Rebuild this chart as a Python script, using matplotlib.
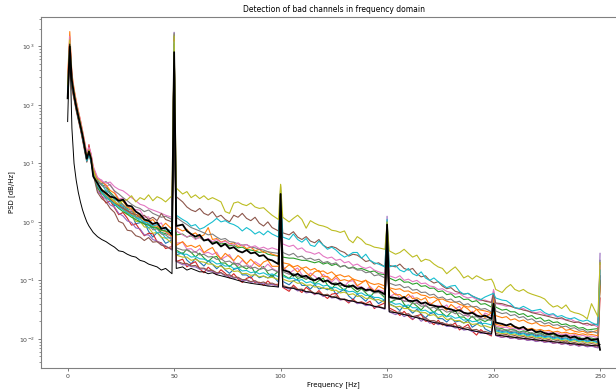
import matplotlib
matplotlib.use("Agg")
import matplotlib.pyplot as plt

# frequency bins (Hz): 1 Hz up to 12 Hz, then every 2 Hz, with the mains lines and their neighbours
freqs = (list(range(0, 13)) + list(range(14, 47, 2)) + [49, 50, 51]
         + list(range(54, 97, 2)) + [99, 100, 101]
         + list(range(104, 147, 2)) + [149, 150, 151]
         + list(range(154, 197, 2)) + [199, 200, 201]
         + list(range(204, 247, 2)) + [249, 250])

# PSD per channel, one row per stretch: 0-12 | 14-49 | 50 | 51-99 | 100 | 101-149 | 150 | 151-199 | 200 | 201-249 | 250
psd_blue = [
    180, 1100, 260, 160, 100, 68, 47, 31, 20, 13, 17, 13, 7.8,
    4.4, 3.3, 3.4, 2.5, 1.9, 1.98, 1.84, 1.37, 1.36, 0.93, 0.97, 0.98, 0.69, 0.55, 0.66, 0.55, 0.43, 0.49,
    1200,
    0.273, 0.296, 0.222, 0.192, 0.238, 0.205, 0.176, 0.217, 0.188, 0.158, 0.184, 0.151, 0.132, 0.154, 0.162, 0.124, 0.124, 0.109, 0.13, 0.111, 0.118, 0.11, 0.124, 0.093,
    2.5,
    0.096, 0.084, 0.099, 0.104, 0.082, 0.082, 0.071, 0.085, 0.071, 0.075, 0.069, 0.076, 0.058, 0.064, 0.071, 0.054, 0.047, 0.058, 0.051, 0.044, 0.054, 0.048, 0.04, 0.047,
    0.9,
    0.04, 0.0351, 0.0304, 0.0374, 0.0328, 0.0275, 0.032, 0.0265, 0.0229, 0.0267, 0.0283, 0.0222, 0.0221, 0.0194, 0.0229, 0.0194, 0.0203, 0.0186, 0.0209, 0.0158, 0.0177, 0.0196, 0.0148, 0.013,
    0.04,
    0.0144, 0.0134, 0.0137, 0.0127, 0.0131, 0.0122, 0.0126, 0.0117, 0.0121, 0.0113, 0.0116, 0.0109, 0.0112, 0.0104, 0.0108, 0.0101, 0.0104, 0.0097, 0.01, 0.0095, 0.0098, 0.0092, 0.0095, 0.0089,
    0.15]
psd_red = [
    140, 800, 200, 130, 85, 58, 40, 26, 17, 11, 21, 13, 7.0,
    4.0, 2.75, 2.1, 2.3, 1.74, 1.33, 1.45, 1.16, 0.88, 0.93, 0.73, 0.58, 0.64, 0.63, 0.46, 0.44, 0.35, 0.38,
    900,
    0.21, 0.23, 0.17, 0.192, 0.209, 0.158, 0.135, 0.168, 0.145, 0.125, 0.152, 0.132, 0.111, 0.13, 0.107, 0.092, 0.108, 0.115, 0.091, 0.093, 0.082, 0.098, 0.084, 0.086,
    1.8,
    0.076, 0.065, 0.083, 0.071, 0.062, 0.076, 0.067, 0.057, 0.067, 0.056, 0.049, 0.058, 0.06, 0.047, 0.047, 0.041, 0.048, 0.041, 0.043, 0.04, 0.044, 0.033, 0.037, 0.041,
    0.6,
    0.0338, 0.0298, 0.0251, 0.0295, 0.0244, 0.0213, 0.0249, 0.0261, 0.02, 0.02, 0.0175, 0.0208, 0.0172, 0.018, 0.0168, 0.0187, 0.0142, 0.0158, 0.0176, 0.0135, 0.0116, 0.0144, 0.0126, 0.0112,
    0.03,
    0.0115, 0.0106, 0.0112, 0.0102, 0.0106, 0.0098, 0.0101, 0.0095, 0.0098, 0.0091, 0.0094, 0.0088, 0.0092, 0.0084, 0.0087, 0.0081, 0.0085, 0.0078, 0.0081, 0.0076, 0.0079, 0.0074, 0.0076, 0.0071,
    0.05]
psd_purple = [
    160, 950, 230, 140, 88, 60, 42, 27, 18, 11.5, 16, 12, 7.2,
    3.4, 2.8, 2.45, 1.95, 1.8, 1.4, 1.26, 1.04, 0.98, 0.79, 0.76, 0.6, 0.6, 0.5, 0.47, 0.42, 0.39, 0.33,
    1750,
    0.21, 0.185, 0.185, 0.172, 0.17, 0.155, 0.158, 0.142, 0.144, 0.13, 0.134, 0.118, 0.12, 0.108, 0.112, 0.099, 0.1, 0.092, 0.096, 0.087, 0.09, 0.082, 0.086, 0.077,
    4.0,
    0.078, 0.071, 0.074, 0.066, 0.069, 0.061, 0.063, 0.058, 0.06, 0.053, 0.056, 0.05, 0.051, 0.046, 0.048, 0.043, 0.045, 0.04, 0.041, 0.037, 0.038, 0.035, 0.035, 0.032,
    1.25,
    0.029, 0.026, 0.028, 0.024, 0.026, 0.022, 0.024, 0.02, 0.022, 0.0185, 0.0195, 0.0175, 0.0185, 0.0163, 0.0166, 0.0153, 0.0156, 0.0141, 0.0145, 0.0133, 0.0135, 0.0124, 0.0127, 0.0117,
    0.055,
    0.0114, 0.0106, 0.0109, 0.0102, 0.0104, 0.0098, 0.01, 0.0094, 0.0096, 0.009, 0.0093, 0.0087, 0.0089, 0.0084, 0.0086, 0.0081, 0.0083, 0.0078, 0.008, 0.0075, 0.0078, 0.0073, 0.0075, 0.007,
    0.29]
psd_green_b = [
    170, 1000, 240, 150, 95, 64, 45, 29, 19, 12.5, 16, 12, 7.5,
    5.2, 4.3, 4.1, 3.2, 2.7, 2.4, 1.95, 1.68, 1.61, 1.24, 1.2, 1.1, 0.9, 0.83, 0.8, 0.66, 0.63, 0.57,
    1000,
    0.33, 0.283, 0.342, 0.301, 0.252, 0.292, 0.242, 0.21, 0.246, 0.257, 0.198, 0.198, 0.171, 0.2, 0.166, 0.172, 0.157, 0.176, 0.135, 0.154, 0.173, 0.133, 0.116, 0.143,
    2.8,
    0.125, 0.108, 0.129, 0.108, 0.113, 0.104, 0.116, 0.087, 0.099, 0.109, 0.083, 0.071, 0.089, 0.078, 0.067, 0.084, 0.072, 0.063, 0.072, 0.061, 0.052, 0.063, 0.064, 0.05,
    0.8,
    0.0416, 0.0468, 0.0515, 0.0392, 0.0337, 0.0418, 0.0363, 0.0312, 0.038, 0.033, 0.0281, 0.0333, 0.0273, 0.0239, 0.0285, 0.0302, 0.0236, 0.0236, 0.0208, 0.0245, 0.0206, 0.0214, 0.0198, 0.0224,
    0.035,
    0.0155, 0.015, 0.0139, 0.0144, 0.0142, 0.013, 0.0137, 0.0132, 0.0122, 0.0127, 0.0125, 0.0115, 0.0122, 0.0118, 0.011, 0.0114, 0.0113, 0.0104, 0.011, 0.0107, 0.0099, 0.0104, 0.0103, 0.0096,
    0.1]
psd_olive_b = [
    150, 900, 210, 135, 85, 58, 41, 27, 17.5, 11.5, 15, 11, 6.8,
    4.2, 3.6, 3.2, 2.6, 2.3, 1.9, 1.64, 1.35, 1.29, 1.02, 1.02, 0.82, 0.8, 0.64, 0.66, 0.54, 0.53, 0.43,
    1600,
    0.27, 0.25, 0.25, 0.22, 0.23, 0.21, 0.205, 0.19, 0.19, 0.17, 0.175, 0.156, 0.161, 0.142, 0.145, 0.13, 0.132, 0.122, 0.125, 0.115, 0.119, 0.11, 0.113, 0.103,
    4.3,
    0.105, 0.096, 0.098, 0.089, 0.091, 0.082, 0.084, 0.077, 0.078, 0.073, 0.073, 0.067, 0.068, 0.061, 0.063, 0.057, 0.059, 0.053, 0.055, 0.049, 0.05, 0.046, 0.047, 0.042,
    1.0,
    0.039, 0.035, 0.036, 0.033, 0.033, 0.03, 0.03, 0.028, 0.028, 0.025, 0.026, 0.023, 0.025, 0.0214, 0.022, 0.0204, 0.0207, 0.0187, 0.0193, 0.0176, 0.0181, 0.0164, 0.0167, 0.0154,
    0.025,
    0.0133, 0.0123, 0.0126, 0.0118, 0.0121, 0.0113, 0.0116, 0.0108, 0.0112, 0.0104, 0.0107, 0.01, 0.0104, 0.0097, 0.01, 0.0093, 0.0096, 0.009, 0.0093, 0.0088, 0.009, 0.0085, 0.0088, 0.0083,
    0.2]
psd_cyan_b = [
    190, 1050, 250, 155, 98, 66, 46, 30, 19, 12, 16, 12.5, 7.4,
    4.6, 4.4, 3.4, 3.1, 2.4, 2.25, 1.7, 1.66, 1.29, 1.25, 1.0, 1.0, 0.79, 0.8, 0.65, 0.66, 0.53, 0.54,
    1300,
    0.31, 0.28, 0.28, 0.25, 0.256, 0.234, 0.231, 0.213, 0.215, 0.191, 0.195, 0.175, 0.179, 0.159, 0.164, 0.145, 0.148, 0.135, 0.141, 0.129, 0.135, 0.123, 0.129, 0.115,
    3.0,
    0.118, 0.106, 0.11, 0.099, 0.103, 0.091, 0.095, 0.086, 0.088, 0.08, 0.083, 0.074, 0.076, 0.069, 0.07, 0.064, 0.065, 0.059, 0.061, 0.055, 0.056, 0.051, 0.051, 0.046,
    0.9,
    0.044, 0.039, 0.04, 0.036, 0.038, 0.034, 0.034, 0.03, 0.031, 0.028, 0.029, 0.026, 0.026, 0.0239, 0.0248, 0.0225, 0.0233, 0.0208, 0.0216, 0.0196, 0.0201, 0.0181, 0.0185, 0.0173,
    0.03,
    0.0138, 0.0128, 0.0132, 0.0122, 0.0128, 0.0117, 0.0123, 0.0112, 0.0118, 0.0108, 0.0112, 0.0105, 0.0109, 0.01, 0.0105, 0.0097, 0.0101, 0.0093, 0.0098, 0.0091, 0.0095, 0.0089, 0.0093, 0.0086,
    0.12]
psd_pink_b = [
    210, 1250, 280, 170, 108, 72, 50, 33, 21, 14, 18, 14, 8.2,
    5.6, 5.2, 4.0, 4.4, 3.3, 2.47, 2.55, 1.94, 1.52, 1.62, 1.59, 1.2, 1.22, 0.86, 0.91, 0.96, 0.67, 0.54,
    1400,
    0.432, 0.448, 0.342, 0.348, 0.299, 0.348, 0.29, 0.302, 0.276, 0.304, 0.227, 0.252, 0.276, 0.209, 0.179, 0.22, 0.19, 0.167, 0.209, 0.187, 0.16, 0.19, 0.161, 0.139,
    2.2,
    0.175, 0.131, 0.149, 0.163, 0.125, 0.107, 0.134, 0.118, 0.103, 0.127, 0.111, 0.094, 0.11, 0.091, 0.079, 0.095, 0.099, 0.078, 0.078, 0.068, 0.079, 0.067, 0.069, 0.064,
    0.7,
    0.0515, 0.0605, 0.0504, 0.044, 0.0518, 0.0543, 0.0418, 0.042, 0.036, 0.0418, 0.0355, 0.0374, 0.034, 0.038, 0.0288, 0.0326, 0.036, 0.0272, 0.0238, 0.0297, 0.026, 0.0225, 0.0276, 0.0248,
    0.05,
    0.0166, 0.0156, 0.0159, 0.0148, 0.0153, 0.0142, 0.0148, 0.0137, 0.0142, 0.0131, 0.0136, 0.0126, 0.0132, 0.0121, 0.0127, 0.0117, 0.0122, 0.0113, 0.0118, 0.011, 0.0115, 0.0107, 0.0112, 0.0105,
    0.18]
psd_brown_b = [
    130, 750, 190, 125, 80, 55, 38, 25, 16, 10.5, 14, 10.5, 6.5,
    3.2, 2.5, 2.2, 1.7, 1.45, 1.02, 0.95, 0.72, 0.7, 0.58, 0.55, 0.48, 0.54, 0.45, 0.46, 0.4, 0.38, 0.34,
    1100,
    0.215, 0.195, 0.195, 0.177, 0.18, 0.162, 0.162, 0.148, 0.149, 0.135, 0.136, 0.123, 0.125, 0.113, 0.113, 0.103, 0.103, 0.095, 0.099, 0.09, 0.094, 0.086, 0.09, 0.081,
    1.6,
    0.082, 0.075, 0.077, 0.07, 0.071, 0.064, 0.066, 0.06, 0.062, 0.056, 0.058, 0.052, 0.054, 0.048, 0.048, 0.045, 0.045, 0.042, 0.042, 0.039, 0.039, 0.036, 0.036, 0.033,
    0.6,
    0.031, 0.028, 0.029, 0.026, 0.027, 0.024, 0.025, 0.022, 0.023, 0.0205, 0.0206, 0.019, 0.019, 0.0173, 0.0178, 0.0163, 0.0167, 0.015, 0.0156, 0.0142, 0.0145, 0.0131, 0.0134, 0.0124,
    0.025,
    0.0124, 0.0116, 0.0119, 0.011, 0.0114, 0.0106, 0.011, 0.0102, 0.0106, 0.0098, 0.0101, 0.0094, 0.0098, 0.009, 0.0095, 0.0088, 0.0092, 0.0084, 0.0087, 0.0082, 0.0085, 0.008, 0.0083, 0.0078,
    0.08]
psd_gray_b = [
    200, 1150, 265, 162, 102, 69, 48, 31, 20, 13, 17, 13, 7.8,
    5.0, 4.2, 3.8, 3.0, 2.7, 2.1, 1.96, 1.56, 1.5, 1.16, 1.16, 0.92, 0.92, 0.73, 0.76, 0.62, 0.6, 0.49,
    1700,
    0.36, 0.33, 0.33, 0.3, 0.31, 0.273, 0.279, 0.251, 0.255, 0.228, 0.235, 0.207, 0.214, 0.189, 0.196, 0.173, 0.177, 0.16, 0.168, 0.153, 0.161, 0.146, 0.155, 0.137,
    2.0,
    0.141, 0.127, 0.131, 0.117, 0.123, 0.109, 0.113, 0.102, 0.106, 0.095, 0.098, 0.088, 0.091, 0.081, 0.084, 0.076, 0.079, 0.07, 0.073, 0.065, 0.068, 0.061, 0.062, 0.055,
    0.75,
    0.051, 0.047, 0.048, 0.044, 0.044, 0.04, 0.041, 0.036, 0.037, 0.033, 0.035, 0.031, 0.032, 0.0286, 0.0297, 0.0269, 0.0277, 0.0247, 0.0259, 0.0233, 0.024, 0.0217, 0.0222, 0.0204,
    0.065,
    0.015, 0.014, 0.0143, 0.0133, 0.0138, 0.0127, 0.0133, 0.0122, 0.0128, 0.0117, 0.0121, 0.0113, 0.0117, 0.0108, 0.0113, 0.0105, 0.011, 0.0101, 0.0106, 0.0098, 0.0103, 0.0096, 0.01, 0.0094,
    0.22]
psd_orange_b = [
    240, 1400, 300, 180, 112, 75, 52, 34, 22, 14, 18, 14, 8.4,
    5.6, 4.8, 4.3, 3.45, 3.1, 2.4, 2.25, 1.78, 1.7, 1.33, 1.32, 1.07, 1.05, 0.85, 0.85, 0.71, 0.69, 0.56,
    1300,
    0.396, 0.46, 0.38, 0.398, 0.365, 0.4, 0.299, 0.335, 0.365, 0.276, 0.235, 0.29, 0.253, 0.218, 0.266, 0.231, 0.192, 0.23, 0.194, 0.172, 0.206, 0.221, 0.174, 0.174,
    2.4,
    0.15, 0.185, 0.164, 0.138, 0.162, 0.135, 0.118, 0.14, 0.148, 0.115, 0.117, 0.101, 0.119, 0.099, 0.103, 0.097, 0.106, 0.081, 0.09, 0.101, 0.075, 0.065, 0.08, 0.07,
    0.7,
    0.0727, 0.0564, 0.0572, 0.0495, 0.0581, 0.0486, 0.0503, 0.0462, 0.0506, 0.0376, 0.0427, 0.0475, 0.0355, 0.0309, 0.0387, 0.0341, 0.0297, 0.0362, 0.0323, 0.0273, 0.032, 0.0267, 0.0232, 0.0281,
    0.04,
    0.0178, 0.0166, 0.017, 0.0159, 0.0164, 0.0153, 0.0157, 0.0146, 0.0151, 0.014, 0.0145, 0.0136, 0.014, 0.013, 0.0135, 0.0126, 0.013, 0.0122, 0.0125, 0.0118, 0.0122, 0.0116, 0.0119, 0.0113,
    0.1]

# channels that sit above the rest
psd_green = [
    190, 1100, 250, 150, 95, 64, 45, 30, 19, 12, 15, 11.5, 7,
    3.8, 3.1, 2.6, 2.3, 2.0, 1.7, 1.5, 1.35, 1.2, 1.1, 1.0, 0.92, 0.88, 0.8, 0.78, 0.72, 0.7, 0.64,
    1100,
    0.6, 0.62, 0.55, 0.58, 0.52, 0.54, 0.48, 0.5, 0.45, 0.46, 0.42, 0.43, 0.39, 0.4, 0.36, 0.37, 0.34, 0.33, 0.32, 0.3, 0.31, 0.28, 0.27, 0.26,
    2.0,
    0.25, 0.24, 0.24, 0.23, 0.22, 0.22, 0.21, 0.2, 0.21, 0.19, 0.2, 0.18, 0.19, 0.17, 0.18, 0.16, 0.17, 0.155, 0.16, 0.15, 0.14, 0.145, 0.13, 0.125,
    0.7,
    0.11, 0.098, 0.106, 0.093, 0.094, 0.086, 0.09, 0.079, 0.081, 0.073, 0.074, 0.064, 0.066, 0.057, 0.059, 0.051, 0.053, 0.047, 0.048, 0.043, 0.045, 0.039, 0.04, 0.035,
    0.06,
    0.035, 0.031, 0.032, 0.029, 0.029, 0.026, 0.027, 0.024, 0.025, 0.022, 0.023, 0.02, 0.021, 0.019, 0.0195, 0.0175, 0.018, 0.0165, 0.0168, 0.0152, 0.0156, 0.0142, 0.0145, 0.015,
    0.1]
psd_orange = [
    300, 1800, 350, 190, 120, 80, 55, 36, 23, 14, 18, 14, 8.5,
    4.4, 3.6, 3.0, 2.6, 2.2, 1.9, 1.7, 1.5, 1.35, 1.2, 1.3, 1.05, 1.0, 1.1, 0.9, 0.8, 0.95, 0.75,
    1300,
    0.8, 0.7, 0.75, 0.6, 0.65, 0.55, 0.6, 0.8, 0.5, 0.52, 0.45, 0.48, 0.42, 0.44, 0.38, 0.4, 0.35, 0.37, 0.32, 0.34, 0.3, 0.31, 0.28, 0.26,
    2.2,
    0.2, 0.19, 0.17, 0.18, 0.16, 0.17, 0.15, 0.16, 0.14, 0.145, 0.13, 0.14, 0.12, 0.125, 0.115, 0.12, 0.105, 0.1, 0.095, 0.1, 0.09, 0.085, 0.088, 0.08,
    0.8,
    0.075, 0.07, 0.072, 0.065, 0.066, 0.06, 0.062, 0.056, 0.055, 0.05, 0.052, 0.047, 0.048, 0.044, 0.042, 0.043, 0.039, 0.037, 0.035, 0.036, 0.032, 0.031, 0.03, 0.028,
    0.05,
    0.025, 0.023, 0.024, 0.021, 0.022, 0.02, 0.021, 0.019, 0.018, 0.019, 0.017, 0.0165, 0.017, 0.0155, 0.015, 0.016, 0.014, 0.0145, 0.0135, 0.013, 0.0135, 0.0125, 0.013, 0.014,
    0.08]
psd_gray = [
    200, 1100, 260, 160, 100, 70, 48, 32, 20, 13, 16, 12, 7.5,
    4.8, 4.5, 4.9, 4.2, 3.4, 3.0, 2.6, 2.3, 2.0, 1.8, 1.7, 1.5, 1.6, 1.4, 1.3, 1.2, 1.25, 1.1,
    1500,
    1.2, 1.0, 0.9, 0.8, 0.75, 0.7, 0.65, 0.6, 0.62, 0.55, 0.5, 0.52, 0.46, 0.45, 0.42, 0.4, 0.41, 0.37, 0.36, 0.34, 0.33, 0.31, 0.3, 0.29,
    2.0,
    0.3, 0.27, 0.29, 0.25, 0.26, 0.23, 0.24, 0.22, 0.23, 0.2, 0.21, 0.19, 0.2, 0.17, 0.18, 0.16, 0.165, 0.15, 0.15, 0.135, 0.14, 0.12, 0.125, 0.11,
    0.7,
    0.09, 0.082, 0.085, 0.075, 0.078, 0.068, 0.07, 0.062, 0.063, 0.056, 0.058, 0.05, 0.052, 0.046, 0.048, 0.042, 0.044, 0.038, 0.04, 0.035, 0.036, 0.032, 0.033, 0.029,
    0.065,
    0.03, 0.027, 0.028, 0.025, 0.026, 0.023, 0.024, 0.021, 0.022, 0.0195, 0.02, 0.018, 0.019, 0.017, 0.0175, 0.016, 0.0165, 0.015, 0.0155, 0.014, 0.0145, 0.013, 0.0135, 0.0125,
    0.1]
psd_pink = [
    250, 1500, 320, 180, 115, 78, 55, 36, 23, 15, 19, 15, 9,
    5.8, 5.0, 4.6, 4.8, 4.0, 3.6, 3.4, 3.0, 2.6, 2.3, 2.0, 1.9, 1.7, 1.6, 1.5, 1.4, 1.3, 1.2,
    1200,
    0.7, 0.6, 0.55, 0.6, 0.5, 0.55, 0.48, 0.52, 0.46, 0.5, 0.44, 0.47, 0.42, 0.4, 0.44, 0.39, 0.41, 0.37, 0.39, 0.35, 0.37, 0.34, 0.36, 0.33,
    2.5,
    0.42, 0.38, 0.4, 0.34, 0.36, 0.31, 0.3, 0.28, 0.3, 0.26, 0.24, 0.25, 0.22, 0.23, 0.2, 0.21, 0.18, 0.19, 0.17, 0.16, 0.17, 0.15, 0.14, 0.13,
    0.8,
    0.12, 0.11, 0.12, 0.1, 0.105, 0.095, 0.1, 0.088, 0.09, 0.08, 0.078, 0.07, 0.072, 0.065, 0.062, 0.058, 0.06, 0.053, 0.05, 0.052, 0.047, 0.045, 0.046, 0.042,
    0.07,
    0.04, 0.038, 0.036, 0.037, 0.034, 0.032, 0.033, 0.03, 0.029, 0.028, 0.029, 0.026, 0.025, 0.026, 0.023, 0.022, 0.021, 0.022, 0.02, 0.019, 0.018, 0.017, 0.018, 0.016,
    0.18]
psd_brown = [
    160, 900, 220, 140, 90, 60, 42, 28, 18, 12, 15, 11, 7,
    4.0, 3.3, 2.8, 2.4, 2.1, 1.9, 1.7, 1.55, 1.4, 1.35, 1.2, 1.3, 1.1, 1.2, 1.05, 1.4, 1.1, 1.0,
    1100,
    2.7, 2.2, 1.8, 1.6, 1.5, 1.7, 1.4, 1.3, 1.5, 1.2, 1.3, 1.1, 1.0, 1.3, 1.2, 1.4, 1.15, 1.05, 1.2, 0.95, 0.85, 1.0, 0.8, 0.7,
    2.8,
    0.65, 0.6, 0.68, 0.55, 0.5, 0.56, 0.47, 0.44, 0.5, 0.4, 0.36, 0.38, 0.36, 0.32, 0.3, 0.26, 0.28, 0.27, 0.24, 0.21, 0.22, 0.19, 0.2, 0.17,
    1.0,
    0.18, 0.17, 0.19, 0.16, 0.15, 0.16, 0.13, 0.115, 0.12, 0.1, 0.09, 0.095, 0.08, 0.072, 0.075, 0.065, 0.062, 0.058, 0.06, 0.054, 0.05, 0.047, 0.044, 0.042,
    0.06,
    0.041, 0.04, 0.038, 0.036, 0.034, 0.033, 0.031, 0.03, 0.028, 0.027, 0.026, 0.025, 0.024, 0.023, 0.022, 0.023, 0.021, 0.02, 0.019, 0.0195, 0.018, 0.0185, 0.017, 0.018,
    0.12]
psd_cyan = [
    180, 1000, 240, 150, 95, 62, 44, 28, 18, 11, 14, 11, 6.5,
    4.2, 3.2, 2.7, 2.3, 2.0, 1.8, 1.6, 1.45, 1.3, 1.2, 1.1, 1.0, 0.95, 0.85, 0.9, 0.8, 0.75, 0.7,
    1200,
    1.3, 1.1, 1.0, 0.85, 0.9, 0.75, 0.8, 0.9, 1.0, 1.15, 1.0, 1.05, 0.95, 0.9, 0.82, 0.7, 0.8, 0.72, 0.62, 0.68, 0.6, 0.7, 0.62, 0.55,
    3.5,
    0.55, 0.5, 0.62, 0.5, 0.45, 0.52, 0.4, 0.38, 0.47, 0.4, 0.34, 0.37, 0.33, 0.28, 0.25, 0.27, 0.3, 0.3, 0.24, 0.28, 0.22, 0.2, 0.19, 0.17,
    1.1,
    0.17, 0.18, 0.15, 0.14, 0.16, 0.13, 0.12, 0.14, 0.11, 0.1, 0.11, 0.095, 0.085, 0.075, 0.08, 0.082, 0.065, 0.058, 0.06, 0.054, 0.05, 0.047, 0.052, 0.058,
    0.06,
    0.05, 0.046, 0.045, 0.04, 0.034, 0.033, 0.036, 0.033, 0.03, 0.031, 0.032, 0.028, 0.026, 0.027, 0.024, 0.025, 0.023, 0.022, 0.023, 0.021, 0.02, 0.021, 0.019, 0.017,
    0.15]
psd_olive = [
    220, 1300, 280, 170, 105, 72, 50, 33, 21, 13, 17, 13, 8,
    4.5, 3.6, 3.0, 2.6, 2.2, 2.0, 2.3, 2.4, 2.8, 2.2, 2.6, 2.4, 2.9, 2.3, 2.7, 2.5, 2.2, 2.8,
    1500,
    3.8, 3.0, 3.3, 2.6, 2.9, 2.5, 2.8, 2.4, 2.6, 2.4, 2.2, 1.5, 1.4, 2.1, 2.2, 2.0, 1.9, 2.1, 1.8, 1.7, 1.75, 1.5, 1.3, 1.1,
    4.4,
    1.2, 1.0, 1.15, 1.3, 1.1, 0.78, 1.05, 0.95, 0.88, 0.85, 0.8, 0.72, 0.7, 0.66, 0.7, 0.5, 0.44, 0.56, 0.5, 0.42, 0.4, 0.37, 0.36, 0.34,
    1.0,
    0.32, 0.28, 0.3, 0.34, 0.29, 0.25, 0.27, 0.21, 0.23, 0.22, 0.19, 0.17, 0.16, 0.13, 0.15, 0.17, 0.14, 0.11, 0.12, 0.105, 0.12, 0.11, 0.1, 0.105,
    0.09,
    0.07, 0.062, 0.075, 0.085, 0.07, 0.065, 0.07, 0.062, 0.058, 0.055, 0.052, 0.048, 0.04, 0.035, 0.037, 0.033, 0.038, 0.03, 0.028, 0.027, 0.025, 0.022, 0.04, 0.024,
    0.2]

# average over channels and the low reference trace
psd_mean = [
    130, 1000, 260, 150, 95, 65, 45, 30, 19, 12, 16, 12, 6,
    4.6, 3.5, 3.1, 2.7, 2.6, 2.3, 2.4, 1.9, 1.85, 1.5, 1.35, 1.1, 1.05, 0.92, 0.98, 0.76, 0.8, 0.6,
    800,
    0.85, 0.9, 0.7, 0.62, 0.56, 0.6, 0.48, 0.5, 0.42, 0.45, 0.38, 0.42, 0.35, 0.37, 0.32, 0.3, 0.33, 0.29, 0.3, 0.26, 0.27, 0.23, 0.22, 0.19,
    3.0,
    0.15, 0.14, 0.12, 0.13, 0.115, 0.12, 0.105, 0.1, 0.11, 0.095, 0.1, 0.088, 0.085, 0.09, 0.08, 0.078, 0.082, 0.072, 0.075, 0.068, 0.07, 0.064, 0.066, 0.058,
    0.9,
    0.052, 0.05, 0.048, 0.052, 0.045, 0.044, 0.046, 0.04, 0.042, 0.038, 0.037, 0.035, 0.036, 0.033, 0.032, 0.03, 0.031, 0.028, 0.027, 0.028, 0.025, 0.024, 0.025, 0.022,
    0.04,
    0.019, 0.018, 0.017, 0.018, 0.016, 0.015, 0.016, 0.014, 0.0145, 0.013, 0.0135, 0.0125, 0.012, 0.0125, 0.0115, 0.011, 0.0115, 0.0105, 0.011, 0.01, 0.0098, 0.0105, 0.0095, 0.01,
    0.0065]
psd_ref = [
    52, 1100, 40, 10, 5.2, 3.2, 2.2, 1.6, 1.25, 1.0, 0.85, 0.75, 0.66,
    0.56, 0.5, 0.46, 0.41, 0.37, 0.32, 0.31, 0.28, 0.26, 0.25, 0.22, 0.21, 0.19, 0.18, 0.17, 0.15, 0.16, 0.13,
    300,
    0.16, 0.17, 0.15, 0.16, 0.15, 0.14, 0.14, 0.13, 0.135, 0.125, 0.12, 0.115, 0.11, 0.105, 0.1, 0.095, 0.092, 0.089, 0.087, 0.085, 0.083, 0.08, 0.079, 0.077,
    1.0,
    0.078, 0.074, 0.073, 0.069, 0.068, 0.064, 0.063, 0.06, 0.059, 0.056, 0.055, 0.052, 0.051, 0.048, 0.047, 0.045, 0.044, 0.042, 0.041, 0.039, 0.038, 0.036, 0.035, 0.033,
    0.4,
    0.029, 0.028, 0.027, 0.026, 0.025, 0.024, 0.023, 0.022, 0.021, 0.02, 0.019, 0.0185, 0.0178, 0.017, 0.0166, 0.016, 0.0156, 0.0148, 0.0144, 0.0139, 0.0134, 0.0129, 0.0124, 0.0121,
    0.02,
    0.0116, 0.0113, 0.011, 0.0108, 0.0106, 0.0104, 0.0102, 0.01, 0.0098, 0.0096, 0.0094, 0.0093, 0.0091, 0.0089, 0.0088, 0.0086, 0.0085, 0.0083, 0.0082, 0.008, 0.0079, 0.0078, 0.0077, 0.0076,
    0.008]

channels = [
    (psd_blue, "tab:blue"), (psd_red, "tab:red"), (psd_purple, "tab:purple"),
    (psd_green_b, "tab:green"), (psd_olive_b, "tab:olive"), (psd_cyan_b, "tab:cyan"),
    (psd_pink_b, "tab:pink"), (psd_brown_b, "tab:brown"), (psd_gray_b, "tab:gray"),
    (psd_orange_b, "tab:orange"),
    (psd_green, "tab:green"), (psd_orange, "tab:orange"), (psd_gray, "tab:gray"),
    (psd_pink, "tab:pink"), (psd_brown, "tab:brown"), (psd_cyan, "tab:cyan"),
    (psd_olive, "tab:olive"),
]

fig = plt.figure(figsize=(6.16, 3.92), dpi=100)
ax = fig.add_axes([0.0666, 0.0625, 0.9507, 0.895])

for values, color in channels:
    ax.plot(freqs, values, color=color, lw=0.8)
ax.plot(freqs, psd_mean, color="black", lw=1.3)
ax.plot(freqs, psd_ref, color="black", lw=0.7)

ax.set_yscale("log")
ax.set_xlim(-12.5, 262.5)
ax.set_ylim(10 ** -2.49, 10 ** 3.51)
ax.set_xticks([0, 50, 100, 150, 200, 250])
ax.set_yticks([1e-2, 1e-1, 1e0, 1e1, 1e2, 1e3])

ax.set_title("Detection of bad channels in frequency domain", fontsize=5.5, pad=3)
ax.set_xlabel("Frequency [Hz]", fontsize=5, labelpad=2)
ax.set_ylabel("PSD [dB/Hz]", fontsize=5, labelpad=3)
ax.tick_params(which="major", labelsize=4.5, length=2.5, width=0.5, pad=2, colors="#444444")
ax.tick_params(which="minor", length=1.5, width=0.4, colors="#444444")
for side in ax.spines.values():
    side.set_color("#808080")
    side.set_linewidth(0.8)

fig.savefig("out.png", dpi=100)
